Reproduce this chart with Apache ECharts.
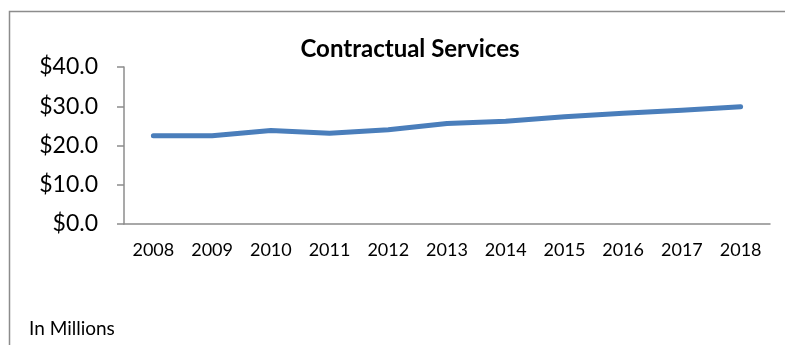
<!DOCTYPE html>
<html>
<head>
<meta charset="utf-8">
<script src="https://cdn.jsdelivr.net/npm/echarts@6/dist/echarts.min.js"></script>
<style>
  html, body { margin: 0; padding: 0; background: #fff; }
  #chart { width: 785px; height: 345px; }
</style>
</head>
<body>
<div id="chart"></div>
<script>
// Contractual services spending by fiscal year, in millions of dollars
const years = ['2008', '2009', '2010', '2011', '2012', '2013', '2014', '2015', '2016', '2017', '2018'];
const spending = [22.5, 22.5, 23.8, 23.1, 24.0, 25.6, 26.2, 27.3, 28.2, 29.0, 29.9];
const yTicks = { min: 0, max: 40, interval: 10 };

const fontFamily = 'Lato, "Open Sans", sans-serif';
const chart = echarts.init(document.getElementById('chart'), null, { renderer: 'canvas' });

chart.setOption({
  animation: false,
  backgroundColor: '#ffffff',
  title: {
    text: 'Contractual Services',
    left: 405,
    top: 32,
    textAlign: 'center',
    textStyle: { fontFamily, fontSize: 24, fontWeight: 'bold', color: '#000' }
  },
  graphic: [
    {
      type: 'polyline',
      shape: { points: [[9.5, 345], [9.5, 11.5], [785, 11.5]] },
      style: { stroke: '#8c8c8c', lineWidth: 1.5, fill: null }
    },
    {
      type: 'text',
      left: 29,
      top: 319,
      style: { text: 'In Millions', fontFamily, fontSize: 19, fill: '#000' }
    }
  ],
  grid: { left: 124, right: 15, top: 67, bottom: 121 },
  xAxis: {
    type: 'category',
    data: years,
    boundaryGap: true,
    axisLine: { lineStyle: { color: '#8c8c8c', width: 1.5 } },
    axisTick: { show: false },
    axisLabel: { color: '#000', fontFamily, fontSize: 18, margin: 17 }
  },
  yAxis: {
    type: 'value',
    min: yTicks.min,
    max: yTicks.max,
    interval: yTicks.interval,
    axisLine: { show: true, lineStyle: { color: '#8c8c8c', width: 1.5 } },
    axisTick: { show: true, length: 7, lineStyle: { color: '#8c8c8c', width: 1.5 } },
    splitLine: { show: false },
    axisLabel: {
      color: '#000', fontFamily, fontSize: 23, margin: 26,
      formatter: v => '$' + v.toFixed(1)
    }
  },
  series: [{
    type: 'line',
    data: spending,
    showSymbol: false,
    lineStyle: { color: '#4a7ebb', width: 5, cap: 'round', join: 'round' }
  }]
});
</script>
</body>
</html>
